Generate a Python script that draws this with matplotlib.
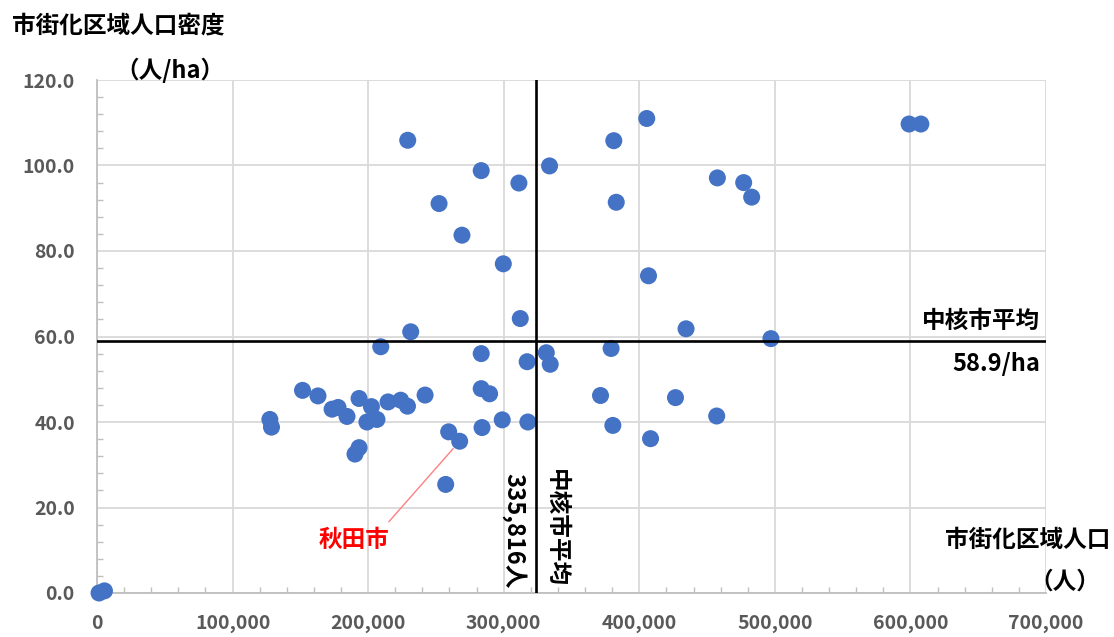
import matplotlib
matplotlib.use("Agg")
import matplotlib.pyplot as plt
from matplotlib.ticker import MultipleLocator, FuncFormatter

plt.rcParams['font.family'] = ['Noto Sans CJK JP', 'DejaVu Sans']

# 中核市ごとの市街化区域人口（人）と市街化区域人口密度（人/ha）
population = [1500, 5500,
              127500, 128700, 151600, 163000, 173400, 177800, 184400, 190300,
              193300, 193300, 199100, 202400, 206500, 209300, 214700, 224000,
              229000, 229200, 231400, 242000, 252300, 257200, 259400, 267500,
              269200, 283400, 283400, 283400, 284000, 289600, 298900, 299700,
              311200, 312200, 317300, 317800, 331400, 333800, 334300, 371400,
              379200, 380500, 381200, 383000, 405500, 406800, 408300, 426700,
              434500, 457100, 457600, 477000, 482900, 497100, 599000, 607700]
density = [0.0, 0.5,
           40.6, 38.8, 47.4, 46.1, 43.0, 43.4, 41.3, 32.5,
           34.0, 45.5, 40.0, 43.6, 40.6, 57.6, 44.7, 45.1,
           43.7, 105.9, 61.1, 46.3, 91.1, 25.4, 37.7, 35.5,
           83.7, 98.8, 56.0, 47.8, 38.7, 46.6, 40.5, 77.0,
           95.9, 64.2, 54.1, 40.0, 56.2, 99.9, 53.5, 46.2,
           57.2, 39.2, 105.8, 91.4, 111.0, 74.2, 36.1, 45.7,
           61.8, 41.4, 97.1, 96.0, 92.6, 59.5, 109.7, 109.7]

akita_pop = 267500
akita_density = 35.5

avg_density = 58.9
avg_pop_label = 335816
avg_pop_line = 324000  # where the line sits in the source chart

W, H = 1114, 637
fig = plt.figure(figsize=(W / 100, H / 100), dpi=100)
ax = fig.add_axes([97 / W, 1 - 593 / H, (1046 - 97) / W, (593 - 80) / H])

ax.scatter(population, density, s=150, color='#4472C4', edgecolors='none',
           zorder=3, clip_on=False)

ax.axhline(avg_density, color='black', lw=1.9, zorder=4)
ax.axvline(avg_pop_line, color='black', lw=1.9, zorder=4)

ax.set_xlim(0, 700000)
ax.set_ylim(0, 120)
ax.xaxis.set_major_locator(MultipleLocator(100000))
ax.xaxis.set_minor_locator(MultipleLocator(20000))
ax.yaxis.set_major_locator(MultipleLocator(20))
ax.yaxis.set_minor_locator(MultipleLocator(4))
ax.xaxis.set_major_formatter(FuncFormatter(lambda v, p: f'{v:,.0f}'))
ax.yaxis.set_major_formatter(FuncFormatter(lambda v, p: f'{v:.1f}'))

ax.grid(True, which='major', color='#D9D9D9', lw=1.3, zorder=0)
ax.set_axisbelow(True)
for s in ['top', 'right']:
    ax.spines[s].set_visible(False)
for s in ['left', 'bottom']:
    ax.spines[s].set_color('#BFBFBF')
    ax.spines[s].set_linewidth(1.3)

ax.tick_params(which='both', direction='in', color='#BFBFBF', width=1)
ax.tick_params(which='major', length=0, labelsize=14, labelcolor='#595959')
ax.tick_params(which='minor', length=4)
ax.tick_params(axis='x', which='major', pad=15)
ax.tick_params(axis='y', which='major', pad=16)
for lab in ax.get_xticklabels() + ax.get_yticklabels():
    lab.set_fontweight('bold')

txt = dict(fontsize=17, fontweight='bold', color='black')

# 中核市平均（密度）
ax.annotate('中核市平均', xy=(1, avg_density), xycoords=('axes fraction', 'data'),
            xytext=(-4, 6), textcoords='offset points', ha='right', va='bottom', **txt)
ax.annotate(f'{avg_density}/ha', xy=(1, avg_density), xycoords=('axes fraction', 'data'),
            xytext=(-4, -8), textcoords='offset points', ha='right', va='top', **txt)

# 中核市平均（人口）
ax.annotate(f'{avg_pop_label:,}人', xy=(avg_pop_line, 0), xycoords=('data', 'axes fraction'),
            xytext=(-16, 3), textcoords='offset points', rotation=270,
            ha='center', va='bottom', **txt)
ax.annotate('中核市平均', xy=(avg_pop_line, 0), xycoords=('data', 'axes fraction'),
            xytext=(14.5, 4), textcoords='offset points', rotation=270,
            ha='center', va='bottom', **txt)

# 秋田市
ax.annotate('', xy=(akita_pop, akita_density), xytext=(-51, -58),
            textcoords='offset points',
            arrowprops=dict(arrowstyle='-', color='#FF8080', lw=1,
                            shrinkA=0, shrinkB=7))
ax.annotate('秋田市', xy=(akita_pop, akita_density), xytext=(-76, -71),
            textcoords='offset points', ha='center', va='center',
            fontsize=17, fontweight='bold', color='#FF0000')

# axis titles
fig.text(12 / W, 1 - 25 / H, '市街化区域人口密度', ha='left', va='center', **txt)
fig.text(170 / W, 1 - 70 / H, '（人/ha）', ha='center', va='center', **txt)
fig.text(1110 / W, 1 - 540 / H, '市街化区域人口', ha='right', va='center', **txt)
fig.text(1100 / W, 1 - 582 / H, '（人）', ha='right', va='center', **txt)

fig.savefig('out.png', dpi=100)
